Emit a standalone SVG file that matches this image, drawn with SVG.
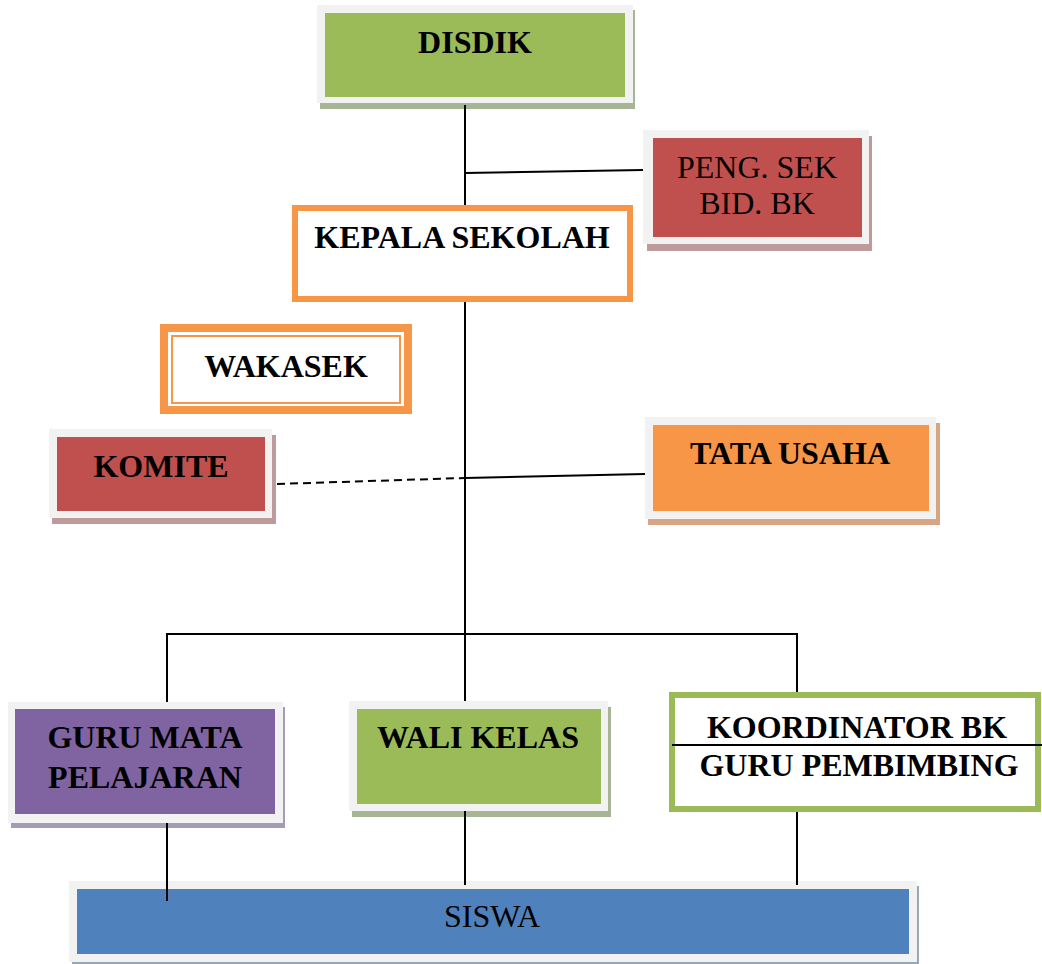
<svg xmlns="http://www.w3.org/2000/svg" width="1042" height="964" viewBox="0 0 1042 964">
<style>
.frame{fill:#f2f2f2}
.t{font-family:"Liberation Serif","Times New Roman",serif;font-weight:bold;font-size:32px;fill:#000;text-anchor:middle}
.r{font-weight:normal}
.ln{stroke:#000;stroke-width:2;fill:none}
</style>
<rect width="1042" height="964" fill="#fff"/>
<g id="disdik">
<rect x="320" y="10" width="315" height="99" fill="#a8b496"/>
<rect class="frame" x="317" y="5" width="316" height="98"/>
<rect x="325" y="13" width="300" height="84" fill="#9bbb59"/>
<text class="t" x="475" y="53" font-size="31.5">DISDIK</text>
</g>
<g id="peng-sek">
<rect x="647" y="136" width="225" height="115" fill="#bf9a9a"/>
<rect class="frame" x="643" y="130" width="226" height="114"/>
<rect x="653" y="138" width="209" height="99" fill="#c0504d"/>
<text class="t r" x="757" y="178" font-size="30">PENG. SEK</text>
<text class="t r" x="757" y="214" font-size="30">BID. BK</text>
</g>
<g id="kepala-sekolah">
<rect x="295" y="208" width="335" height="91" fill="#fff" stroke="#f79646" stroke-width="6"/>
<text class="t" x="462" y="248" font-size="28">KEPALA SEKOLAH</text>
</g>
<g id="wakasek">
<rect x="164" y="328" width="244" height="82" fill="#fff" stroke="#f79646" stroke-width="8"/>
<rect x="172" y="336" width="228" height="67" fill="none" stroke="#f79646" stroke-width="2"/>
<text class="t" x="286" y="377" font-size="32.5">WAKASEK</text>
</g>
<g id="komite">
<rect x="52" y="435" width="224" height="89" fill="#bf9a9a"/>
<rect class="frame" x="49" y="429" width="223" height="89"/>
<rect x="57" y="437" width="208" height="74" fill="#c0504d"/>
<text class="t" x="161" y="477">KOMITE</text>
</g>
<g id="tata-usaha">
<rect x="648" y="423" width="292" height="102" fill="#d6a684"/>
<rect class="frame" x="645" y="417" width="291" height="102"/>
<rect x="653" y="425" width="276" height="86" fill="#f79646"/>
<text class="t" x="790" y="464" font-size="33">TATA USAHA</text>
</g>
<g id="guru-mata-pelajaran">
<rect x="11" y="707" width="274" height="121" fill="#a49cb6"/>
<rect class="frame" x="8" y="702" width="275" height="121"/>
<rect x="15" y="709" width="260" height="105" fill="#8064a2"/>
<text class="t" x="145" y="748" font-size="32.5">GURU MATA</text>
<text class="t" x="145" y="788" font-size="32.5">PELAJARAN</text>
</g>
<g id="wali-kelas">
<rect x="352" y="707" width="259" height="110" fill="#a8b496"/>
<rect class="frame" x="349" y="701" width="259" height="110"/>
<rect x="357" y="709" width="244" height="95" fill="#9bbb59"/>
<text class="t" x="478" y="748">WALI KELAS</text>
</g>
<g id="koordinator-bk">
<rect x="672" y="695" width="366" height="114" fill="#fff" stroke="#9bbb59" stroke-width="6"/>
<line x1="672" y1="745" x2="1042" y2="745" stroke="#000" stroke-width="2"/>
<text class="t" x="857" y="738">KOORDINATOR BK</text>
<text class="t" x="859" y="776" font-size="32.5">GURU PEMBIMBING</text>
</g>
<g id="siswa">
<rect x="72" y="886" width="847" height="78" fill="#9aa6b8"/>
<rect class="frame" x="69" y="881" width="848" height="81"/>
<rect x="77" y="889" width="832" height="65" fill="#4f81bd"/>
<text class="t r" x="492" y="927" font-size="32.5">SISWA</text>
</g>
<g id="connectors">
<line class="ln" x1="465" y1="105" x2="465" y2="205"/>
<line class="ln" x1="465" y1="173" x2="643" y2="170"/>
<line class="ln" x1="465" y1="302" x2="465" y2="701"/>
<line class="ln" x1="277" y1="484" x2="465" y2="478" stroke-dasharray="8,5"/>
<line class="ln" x1="465" y1="478" x2="645" y2="474"/>
<polyline class="ln" points="167,702 167,634 797,634 797,692"/>
<line class="ln" x1="167" y1="823" x2="167" y2="901"/>
<line class="ln" x1="465" y1="811" x2="465" y2="885"/>
<line class="ln" x1="797" y1="812" x2="797" y2="885"/>
</g>
</svg>
